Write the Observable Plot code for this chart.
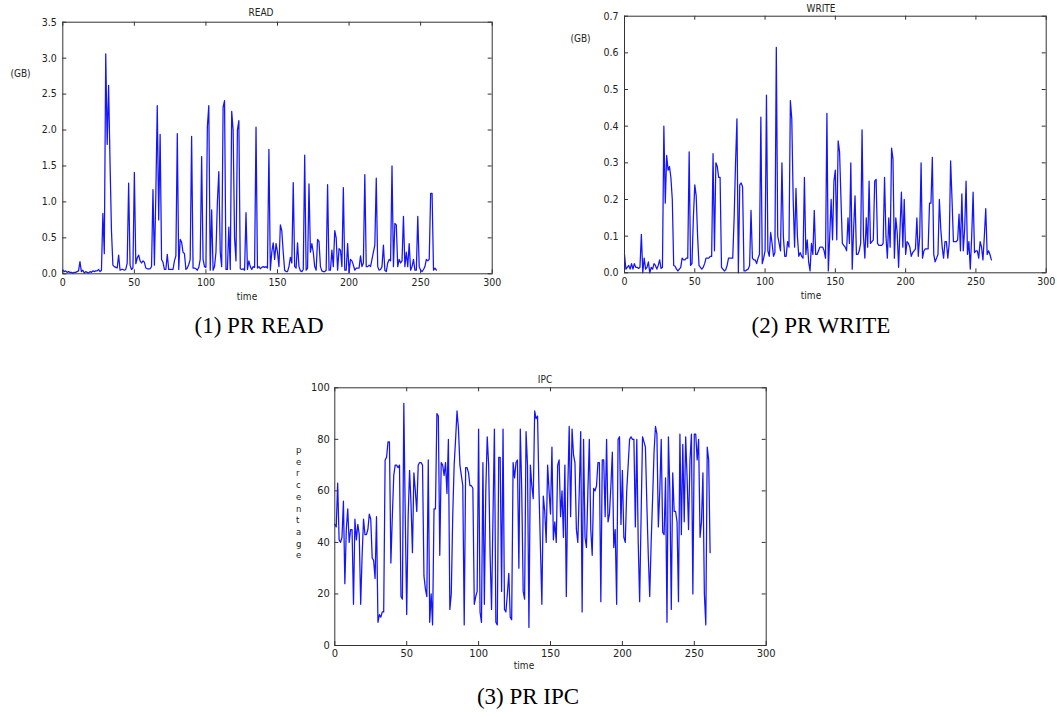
<!DOCTYPE html>
<html>
<head>
<meta charset="utf-8">
<script src="https://cdn.jsdelivr.net/npm/d3@7"></script>
<script src="https://cdn.jsdelivr.net/npm/@observablehq/plot@0.6"></script>
<style>
  html, body { margin: 0; padding: 0; background: #fff; }
  #fig { position: relative; width: 1057px; height: 717px; overflow: hidden; background: #fff; }
  .panel { position: absolute; }
  .lbl { position: absolute; font-family: "DejaVu Sans Condensed", "DejaVu Sans", sans-serif; font-size: 10px; color: #222; white-space: nowrap; transform: translate(-50%, -50%); }
  .cap { position: absolute; font-family: "Liberation Serif", "Times New Roman", serif; font-size: 23px; color: #000; white-space: nowrap; transform: translate(-50%, -50%); }
  .vert { position: absolute; font-family: "DejaVu Sans Condensed", "DejaVu Sans", sans-serif; font-size: 9.5px; color: #222; width: 1px; word-break: break-all; line-height: 11.7px; text-align: center; }
</style>
</head>
<body>
<div id="fig"></div>
<script>
// ---------- data (index = time step) ----------
const timeTicks = [0, 50, 100, 150, 200, 250, 300];
const readTicks = [0, 0.5, 1.0, 1.5, 2.0, 2.5, 3.0, 3.5];
const writeTicks = [0, 0.1, 0.2, 0.3, 0.4, 0.5, 0.6, 0.7];
const ipcTicks = [0, 20, 40, 60, 80, 100];

const readGB = [
  0.05,0.03,0.04,0.02,0.03,0.02,0.02,0.01,0.02,0.02,
  0.03,0.04,0.17,0.03,0.05,0.01,0.03,0.02,0.01,0.03,
  0.02,0.04,0.03,0.04,0.04,0.06,0.03,0.05,0.84,0.28,
  3.06,1.80,2.62,1.55,0.60,0.12,0.10,0.09,0.08,0.26,
  0.05,0.06,0.06,0.05,0.06,0.15,1.26,0.12,0.06,0.08,
  1.41,0.14,0.22,0.26,0.18,0.15,0.18,0.16,0.08,0.07,
  0.07,0.07,0.10,1.17,0.12,1.10,2.34,0.75,1.94,0.20,
  0.16,0.06,0.06,0.27,0.06,0.06,0.06,0.06,0.18,0.25,
  1.95,0.06,0.48,0.44,0.30,0.28,0.06,0.08,0.13,0.20,
  1.91,0.08,0.08,0.07,0.05,0.09,0.20,1.63,0.20,0.10,
  0.09,2.05,2.34,0.05,0.89,0.05,0.10,0.30,1.00,1.42,
  0.30,0.10,2.32,2.41,0.06,0.06,0.65,0.06,2.26,2.00,
  0.50,0.18,2.00,2.13,0.07,0.06,0.07,0.05,0.85,0.06,
  0.18,0.10,0.06,0.10,0.09,2.04,0.08,0.10,0.07,0.09,
  0.10,0.09,0.10,0.08,1.73,0.05,0.30,0.43,0.20,0.42,
  0.30,0.10,0.68,0.60,0.30,0.05,0.03,0.03,0.10,0.23,
  0.15,1.27,0.10,0.08,0.43,0.10,0.04,0.03,0.06,1.65,
  0.05,0.08,1.25,0.30,0.42,0.30,0.10,0.05,0.48,0.45,
  0.10,0.04,0.03,0.03,0.05,1.24,0.05,0.05,0.33,0.10,
  0.60,0.50,0.05,0.35,0.33,0.10,1.20,0.05,0.05,0.42,
  0.02,0.20,0.18,0.12,0.05,0.08,0.08,0.08,0.25,0.10,
  0.15,1.38,0.10,0.10,0.12,0.10,0.20,0.30,0.40,1.33,
  0.10,0.05,0.06,0.10,0.40,0.05,0.03,0.15,0.20,0.18,
  1.50,0.10,0.70,0.68,0.10,0.20,0.15,0.18,0.80,0.10,
  0.30,0.10,0.42,0.05,0.10,0.20,0.05,0.05,0.80,0.10,
  0.05,0.03,0.06,0.10,0.20,0.18,0.20,1.12,1.12,0.05,
  0.08,0.05
];

const writeGB = [
  0.05,0.01,0.015,0.02,0.01,0.025,0.01,0.025,0.015,0.015,
  0.012,0.015,0.105,0.0,0.04,0.01,0.015,0.03,0.0,0.015,
  0.01,0.025,0.02,0.01,0.02,0.035,0.012,0.015,0.40,0.19,
  0.32,0.28,0.29,0.26,0.20,0.02,0.018,0.01,0.005,0.01,
  0.015,0.04,0.035,0.035,0.04,0.04,0.33,0.02,0.025,0.15,
  0.24,0.21,0.10,0.02,0.015,0.01,0.015,0.025,0.04,0.04,
  0.04,0.045,0.045,0.325,0.06,0.30,0.29,0.26,0.26,0.015,
  0.01,0.005,0.008,0.02,0.04,0.04,0.04,0.04,0.15,0.30,
  0.42,0.0,0.24,0.245,0.235,0.005,0.005,0.008,0.01,0.02,
  0.17,0.04,0.035,0.035,0.025,0.04,0.05,0.425,0.025,0.04,
  0.06,0.485,0.06,0.045,0.11,0.08,0.045,0.055,0.615,0.10,
  0.08,0.06,0.30,0.10,0.045,0.045,0.085,0.07,0.47,0.42,
  0.20,0.07,0.23,0.10,0.045,0.055,0.045,0.04,0.26,0.05,
  0.09,0.03,0.005,0.08,0.05,0.17,0.05,0.05,0.06,0.07,
  0.07,0.07,0.06,0.04,0.435,0.005,0.10,0.20,0.09,0.25,
  0.28,0.09,0.36,0.33,0.20,0.08,0.075,0.07,0.06,0.15,
  0.08,0.30,0.01,0.12,0.21,0.05,0.05,0.06,0.08,0.39,
  0.10,0.04,0.15,0.07,0.25,0.08,0.085,0.09,0.25,0.255,
  0.08,0.075,0.075,0.075,0.08,0.26,0.10,0.04,0.15,0.07,
  0.34,0.31,0.04,0.15,0.11,0.015,0.12,0.22,0.07,0.20,
  0.05,0.085,0.08,0.07,0.045,0.055,0.06,0.065,0.15,0.045,
  0.10,0.30,0.04,0.06,0.065,0.065,0.065,0.19,0.19,0.315,
  0.05,0.03,0.04,0.05,0.20,0.12,0.07,0.04,0.085,0.085,
  0.04,0.08,0.305,0.20,0.085,0.085,0.085,0.09,0.16,0.06,
  0.215,0.06,0.12,0.25,0.05,0.085,0.01,0.10,0.22,0.055,
  0.06,0.06,0.04,0.085,0.07,0.035,0.10,0.175,0.05,0.06,
  0.05,0.035
];

const ipcPct = [
  47,46,63,41,40,42,56,24,45,53,
  40,45,45,16,49,41,47,43,16,35,
  49,43,43,45,51,49,34,33,26,50,
  9,12,11,13,13,72,73,79,79,32,
  50,66,70,70,69,70,19,18,94,50,
  12,50,68,55,36,67,60,52,70,71,
  71,70,27,22,19,72,9,20,8,53,
  53,90,89,35,71,70,66,71,59,80,
  14,20,50,70,80,91,84,70,66,62,
  8,69,69,67,62,62,61,16,19,21,
  84,13,9,71,16,60,81,70,35,14,
  50,84,9,8,73,73,21,84,14,13,
  20,28,11,10,71,65,71,72,30,84,
  60,21,18,83,70,7,70,62,57,91,
  88,89,60,38,16,58,52,40,70,60,
  51,77,41,48,40,70,72,50,60,42,
  70,19,60,85,50,84,74,71,45,40,
  60,83,13,80,42,38,60,80,45,35,
  61,60,62,71,71,17,72,72,50,80,
  48,51,62,75,38,45,16,80,81,47,
  68,42,40,60,70,80,81,80,80,46,
  80,40,17,50,81,79,77,55,35,19,
  40,57,75,85,82,46,60,80,44,43,
  65,9,81,60,14,67,52,52,48,17,
  82,43,78,48,81,65,45,72,82,20,
  82,82,72,80,42,48,67,20,8,77,
  72,36
];

// ---------- drawing ----------
const fig = document.getElementById("fig");
const FONT = "DejaVu Sans Condensed, DejaVu Sans, sans-serif";

function panel({values, yTicks, yDomain, fmt, left, top, width, height, ml, mr, mt, mb, fontSize, xPad, yPad}) {
  const rows = values.map((v, i) => ({time: i, value: v}));
  const innerW = width - ml - mr;
  const innerH = height - mt - mb;
  const tickLen = 4;
  const svg = Plot.plot({
    width, height,
    marginLeft: ml, marginRight: mr, marginTop: mt, marginBottom: mb,
    x: {domain: [0, 300], label: null},
    y: {domain: yDomain, label: null},
    style: {fontFamily: FONT, background: "transparent", color: "#222", overflow: "visible"},
    marks: [
      Plot.ruleX(timeTicks, {x: d => d, insetTop: innerH - tickLen, stroke: "#333"}),
      Plot.ruleX(timeTicks, {x: d => d, insetBottom: innerH - tickLen, stroke: "#333"}),
      Plot.ruleY(yTicks, {y: d => d, insetRight: innerW - tickLen, stroke: "#333"}),
      Plot.ruleY(yTicks, {y: d => d, insetLeft: innerW - tickLen, stroke: "#333"}),
      Plot.axisX(timeTicks, {tickSize: 0, tickPadding: xPad, fontSize, tickFormat: d3.format("d")}),
      Plot.axisY(yTicks, {tickSize: 0, tickPadding: yPad, fontSize, tickFormat: fmt}),
      Plot.line(rows, {x: "time", y: "value", stroke: "#1414ff", strokeWidth: 1.25}),
      Plot.frame({stroke: "#333", strokeWidth: 1})
    ]
  });
  svg.classList.add("panel");
  svg.style.left = left + "px";
  svg.style.top = top + "px";
  fig.appendChild(svg);
}

panel({values: readGB, yTicks: readTicks, yDomain: [0, 3.5], fmt: d3.format(".1f"),
  left: 0, top: 0, width: 500, height: 300, ml: 62.3, mr: 8.3, mt: 21.7, mb: 26.7,
  fontSize: 10.5, xPad: 4.5, yPad: 6});

panel({values: writeGB, yTicks: writeTicks, yDomain: [0, 0.7], fmt: d3.format(".1f"),
  left: 560, top: 0, width: 497, height: 300, ml: 64, mr: 11.3, mt: 15.7, mb: 27.7,
  fontSize: 10.5, xPad: 4.5, yPad: 6});

panel({values: ipcPct, yTicks: ipcTicks, yDomain: [0, 100], fmt: d3.format("d"),
  left: 280, top: 370, width: 500, height: 300, ml: 54.3, mr: 14.3, mt: 17.3, mb: 25,
  fontSize: 11, xPad: 4, yPad: 5});

function label(text, x, y, cls = "lbl", extra = {}) {
  const d = document.createElement("div");
  d.className = cls;
  d.textContent = text;
  d.style.left = x + "px";
  d.style.top = y + "px";
  Object.assign(d.style, extra);
  fig.appendChild(d);
  return d;
}

// titles
label("READ", 261, 12);
label("WRITE", 821, 8);
label("IPC", 545, 379);
// y-axis units
label("(GB)", 20.5, 73);
label("(GB)", 580.5, 38);
// x-axis labels
label("time", 247, 296);
label("time", 811, 294.5);
label("time", 524, 664.5);
// vertical stacked y label for IPC
const v = document.createElement("div");
v.className = "vert";
v.textContent = "percentage";
v.style.left = "296px";
v.style.top = "444px";
fig.appendChild(v);
// captions
label("(1) PR READ", 259, 326, "cap");
label("(2) PR WRITE", 821, 326, "cap");
label("(3) PR IPC", 528, 697, "cap");
</script>
</body>
</html>
